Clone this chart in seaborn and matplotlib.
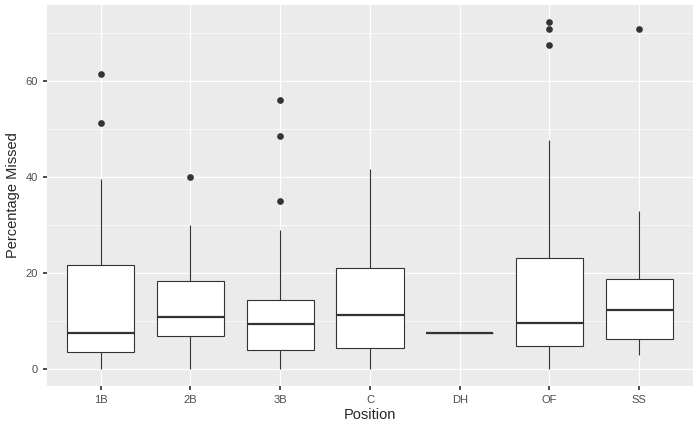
import matplotlib
matplotlib.use("Agg")
import pandas as pd
import matplotlib.pyplot as plt
import seaborn as sns

positions = ["1B", "2B", "3B", "C", "DH", "OF", "SS"]
mins = [0, 0, 0, 0, 7.4, 0, 2.8]
q1s = [3.5, 6.7, 3.8, 4.2, 7.4, 4.8, 6.1]
medians = [7.5, 10.7, 9.4, 11.1, 7.4, 9.6, 12.2]
q3s = [21.7, 18.3, 14.4, 20.9, 7.4, 23.1, 18.6]
whisk_hi = [39.5, 30.0, 29.0, 41.7, 7.4, 47.7, 32.9]
outliers = [[51.3, 61.5], [40.0], [35.0, 48.5, 56.0], [], [], [67.5, 71.0, 72.3], [71.0]]

# 17 values per position so the quartiles land on the values
rows = []
for p, lo, a, m, b, hi, out in zip(positions, mins, q1s, medians, q3s, whisk_hi, outliers):
    top = out + [hi] * (4 - len(out))
    vals = [lo, a, a, a, a, m, m, m, m, b, b, b, b] + top
    rows += [(p, v) for v in vals]
df = pd.DataFrame(rows, columns=["Position", "Percentage Missed"])

sns.set_theme(style="darkgrid", rc={"axes.facecolor": "#EBEBEB", "grid.color": "white"})
plt.rcParams['font.family'] = ['Liberation Sans', 'DejaVu Sans']

fig, ax = plt.subplots(figsize=(7, 4.32), dpi=100)
sns.boxplot(data=df, x="Position", y="Percentage Missed", order=positions, width=0.75,
            color="white", linecolor="#333333", linewidth=0.8, showcaps=False,
            medianprops=dict(linewidth=1.6, color="#333333"),
            flierprops=dict(marker="o", markerfacecolor="#333333", markeredgecolor="#333333",
                            markersize=3.8), ax=ax)
for patch in ax.patches:
    patch.set_facecolor("white")

ax.set_ylim(-3.6, 75.9)
ax.set_xlim(-0.6, 6.6)
ax.set_yticks([0, 20, 40, 60])
ax.set_yticks([10, 30, 50, 70], minor=True)
ax.grid(which="major", color="white", linewidth=0.9)
ax.grid(which="minor", axis="y", color="white", linewidth=0.45)
ax.tick_params(axis="both", which="major", labelsize=8, labelcolor="#4D4D4D",
               length=3, color="#333333", bottom=True, left=True)
ax.tick_params(which="minor", length=0)
for s in ax.spines.values():
    s.set_visible(False)
ax.set_axisbelow(True)
ax.set_xlabel("Position", fontsize=10.5, labelpad=2)
ax.set_ylabel("Percentage Missed", fontsize=10.5, labelpad=4)
plt.subplots_adjust(left=0.067, right=0.99, top=0.988, bottom=0.107)
plt.savefig("out.png", dpi=100)
